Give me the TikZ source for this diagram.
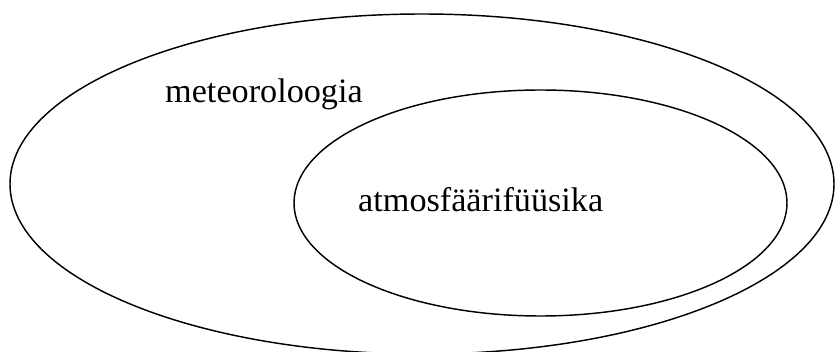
\documentclass[tikz,border=0pt]{standalone}
\usepackage{fontspec}
\setmainfont{Liberation Serif}
\begin{document}
\begin{tikzpicture}[x=1pt,y=-1pt,
  setline/.style={draw=black,line width=1.45pt},
  setlabel/.style={anchor=base west,inner sep=0pt,font=\fontsize{34.2}{40}\selectfont}]
  \useasboundingbox (0,0) rectangle (835,352);
  \clip (0,0) rectangle (835,352);
  % outer set and the subset inside it
  \draw[setline] (422,184) ellipse [x radius=412, y radius=170];
  \draw[setline] (540.5,203) ellipse [x radius=246.5, y radius=113];
  \node[setlabel] (meteo) at (165,103) {meteoroloogia};
  \node[setlabel] (atmo) at (358,212) {atmosfäärifüüsika};
\end{tikzpicture}
\end{document}
